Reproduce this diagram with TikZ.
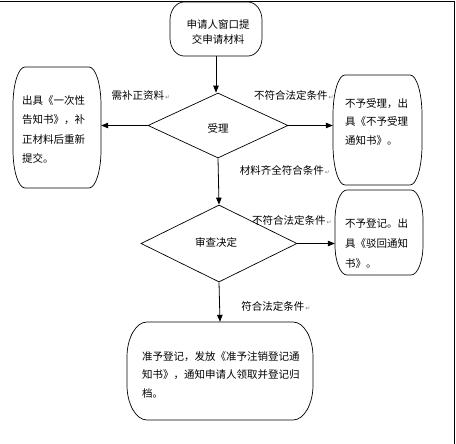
\documentclass[tikz,border=0pt]{standalone}
\usepackage{fontspec}
\setmainfont{Noto Sans CJK SC}
\newfontfamily\symfont{DejaVu Sans}
\usetikzlibrary{shapes.geometric,arrows.meta}
\newcommand{\parmark}{{\symfont\fontsize{6}{6}\selectfont\color{gray}\,↵}}
% x1 y1 x2 y2 rx ry : rectangle with elliptical corners
\newcommand{\ebox}[6]{\draw[line width=0.7pt] ({#1+#5},#2) -- ({#3-#5},#2)
  .. controls ({#3-0.45*#5},#2) and (#3,{#2+0.45*#6}) .. (#3,{#2+#6}) -- (#3,{#4-#6})
  .. controls (#3,{#4-0.45*#6}) and ({#3-0.45*#5},#4) .. ({#3-#5},#4) -- ({#1+#5},#4)
  .. controls ({#1+0.45*#5},#4) and (#1,{#4-0.45*#6}) .. (#1,{#4-#6}) -- (#1,{#2+#6})
  .. controls (#1,{#2+0.45*#6}) and ({#1+0.45*#5},#2) .. cycle;}
\begin{document}
\begin{tikzpicture}[x=1pt,y=-1pt,
  font=\fontsize{10.5}{12}\selectfont,
  boxstyle/.style={inner sep=0pt},
  dia/.style={draw,line width=0.7pt,shape=diamond,inner sep=0pt},
  txt/.style={inner sep=0pt,align=left},
  lbl/.style={inner sep=0pt},
  arr/.style={line width=0.8pt,-{Triangle[length=7pt,width=5.5pt]}}]
\useasboundingbox (0,0) rectangle (456,444);
\draw[line width=0.8pt] (0,1) -- (454.5,1) -- (454.5,444);
% top box
\node[boxstyle,minimum width=92pt,minimum height=54pt] (start) at (216,29) {};
\ebox{170}{2}{262}{56}{14}{18}
\node[txt,align=center,font=\fontsize{10.5}{15}\selectfont] (startt) at (218,32) {申请人窗口提\\交申请材料};
% diamonds
\node[dia,minimum width=140pt,minimum height=65pt,aspect=2.15] (d1) at (218,125.5) {};
\node[lbl] (d1t) at (218,128) {受理};
\node[dia,minimum width=156pt,minimum height=77pt,aspect=2.03] (d2) at (219,243.5) {};
\node[lbl] (d2t) at (216,242) {审查决定};
% left box
\node[boxstyle,minimum width=88pt,minimum height=121pt] (lb) at (57,127.5) {};
\ebox{13}{67}{101}{188}{12}{38}
\node[txt,anchor=north west,font=\fontsize{10.5}{19.5}\selectfont] (lbt) at (22,95) {出具《一次性\\告知书》，补\\正材料后重新\\提交。};
% right box 1
\node[boxstyle,minimum width=89pt,minimum height=110pt] (r1) at (377.5,130) {};
\ebox{333}{75}{422}{185}{12}{40}
\node[txt,anchor=north west,font=\fontsize{10.5}{18.5}\selectfont] (r1t) at (345,98) {不予受理，出\\具《不予受理\\通知书》。};
% right box 2
\node[boxstyle,minimum width=88pt,minimum height=85pt] (r2) at (379,232.5) {};
\ebox{335}{190}{423}{275}{12}{30}
\node[txt,anchor=north west,font=\fontsize{10.5}{20}\selectfont] (r2t) at (345,218) {不予登记。出\\具《驳回通知\\书》。};
% bottom box
\node[boxstyle,minimum width=186pt,minimum height=98pt] (bb) at (220,371) {};
\ebox{127}{322}{313}{420}{20}{35}
\node[txt,anchor=north west,font=\fontsize{10.5}{18.5}\selectfont] (bbt) at (142,351) {准予登记，发放《准予注销登记通\\知书》，通知申请人领取并登记归\\档。};
% arrows
\draw[arr] (start.south) -- (start.south |- d1.north);
\draw[arr] (d1.west) -- (lb.east |- d1.west);
\draw[arr] (d1.east) -- (r1.west |- d1.east);
\draw[arr] (d1.south) -- (d2.north);
\draw[arr] (d2.east) -- (r2.west |- d2.east);
\draw[arr] (d2.south) -- (bb.north);
% labels
\node[lbl] (l1) at (141,96) {需补正资料\parmark};
\node[lbl] (l2) at (294,95) {不符合法定条件\parmark};
\node[lbl] (l3) at (285,170) {材料齐全符合条件\parmark};
\node[lbl] (l4) at (292,220) {不符合法定条件\parmark};
\node[lbl] (l5) at (276,306) {符合法定条件\parmark};
\end{tikzpicture}
\end{document}
